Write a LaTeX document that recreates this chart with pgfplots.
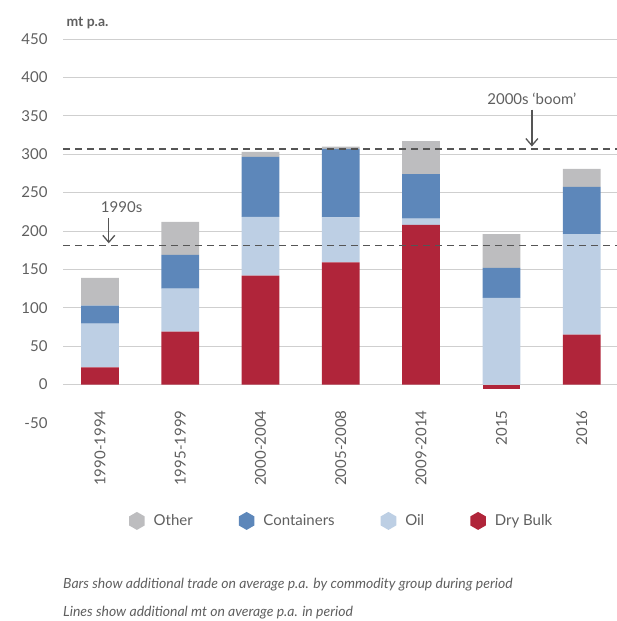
\documentclass[border=0pt]{standalone}
\usepackage{pgfplots}
\pgfplotsset{compat=1.18}
\usepackage{pgfplotstable}
\usepackage{fontspec}
\setmainfont{Lato}
\usetikzlibrary{shapes.geometric,arrows.meta}
\definecolor{dry}{HTML}{B0253A}
\definecolor{oil}{HTML}{BDCFE4}
\definecolor{cont}{HTML}{5D87BA}
\definecolor{oth}{HTML}{BDBDBF}
\definecolor{txt}{HTML}{5F5F5F}
\definecolor{grd}{HTML}{CFCFCF}
\definecolor{dsh}{HTML}{555555}

\pgfplotstableread{
x dry oil cont oth
0 22.5 57 23.5 36
1 69 56 44 43
2 142 76.5 78 6.5
3 159 58.6 89.4 3
4 208 8 58 43
5 0 113 39 44
6 65 131 61.5 23.5
}\data

\pgfplotsset{base/.style={scale only axis, width=554pt, height=384pt,
  at={(63pt,-423pt)}, anchor=south west,
  xmin=-0.46, xmax=6.44, ymin=-50, ymax=450}}

\newcommand{\hexleg}[1]{\addlegendimage{legend image code/.code={\node[regular polygon, regular polygon sides=6, shape border rotate=30, fill=#1, draw=none, inner sep=0pt, minimum size=18pt] at (0.15cm,0) {};}}}

\begin{document}
\begin{tikzpicture}
\path[use as bounding box] (0,0) rectangle (617pt,-621pt);
\begin{axis}[base,
  ybar stacked, bar width=0.47,
  axis line style={draw=none}, major tick length=0,
  ytick={0,50,...,450},
  extra y ticks={-50}, extra y tick style={grid=none},
  ymajorgrids, grid style={grd, line width=0.9pt},
  xtick=data,
  xticklabels={1990-1994,1995-1999,2000-2004,2005-2008,2009-2014,2015,2016},
  xticklabel style={rotate=90, anchor=east, font=\fontsize{15}{17}\selectfont, text=txt},
  xticklabel shift=-16pt,
  yticklabel style={anchor=east, xshift=-12pt, font=\fontsize{15}{17}\selectfont, text=txt},
  /pgf/number format/assume math mode=true,
  legend columns=4,
  legend style={at={(0.503,-0.255)}, anchor=center, draw=none, fill=none,
    font=\fontsize{15}{17}\selectfont, text=txt,
    /tikz/every even column/.append style={column sep=44pt},
    /tikz/every odd column/.append style={column sep=7pt}},
  legend cell align=left,
]
\addplot[fill=dry, draw=none, forget plot] table[x=x, y=dry] {\data};
\addplot[fill=oil, draw=none, forget plot] table[x=x, y=oil] {\data};
\addplot[fill=cont, draw=none, forget plot] table[x=x, y=cont] {\data};
\addplot[fill=oth, draw=none, forget plot] table[x=x, y=oth] {\data};
\hexleg{oth}\addlegendentry{Other}
\hexleg{cont}\addlegendentry{Containers}
\hexleg{oil}\addlegendentry{Oil}
\hexleg{dry}\addlegendentry{Dry Bulk}
\end{axis}
\begin{axis}[base, hide axis]
\addplot[ybar, bar width=0.47, fill=dry, draw=none] coordinates {(5,-6)};
\addplot[sharp plot, no marks, dsh, line width=1.5pt, dash pattern=on 7pt off 5pt] coordinates {(-0.46,307) (6.44,307)};
\addplot[sharp plot, no marks, dsh, line width=1.5pt, dash pattern=on 7pt off 5pt] coordinates {(-0.46,181) (6.44,181)};
\draw[dsh, line width=1.3pt, -{Straight Barb[length=7pt,width=12pt]}] (axis cs:0.11,217) -- (axis cs:0.11,184);
\node[text=txt, font=\fontsize{15}{17}\selectfont] at (axis cs:0.27,231) {1990s};
\draw[dsh, line width=1.3pt, -{Straight Barb[length=7pt,width=12pt]}] (axis cs:5.38,358) -- (axis cs:5.38,310);
\node[text=txt, font=\fontsize{15}{17}\selectfont] at (axis cs:5.38,372) {2000s ‘boom’};
\end{axis}
\node[anchor=west, text=txt, font=\fontsize{14}{16}\selectfont\bfseries] at (63pt,-23pt) {mt p.a.};
\node[anchor=west, inner sep=0pt, text=txt, font=\fontsize{14}{16}\selectfont\itshape] at (63pt,-585pt) {Bars show additional trade on average p.a. by commodity group during period};
\node[anchor=west, inner sep=0pt, text=txt, font=\fontsize{14}{16}\selectfont\itshape] at (63pt,-613pt) {Lines show additional mt on average p.a. in period};
\end{tikzpicture}
\end{document}
